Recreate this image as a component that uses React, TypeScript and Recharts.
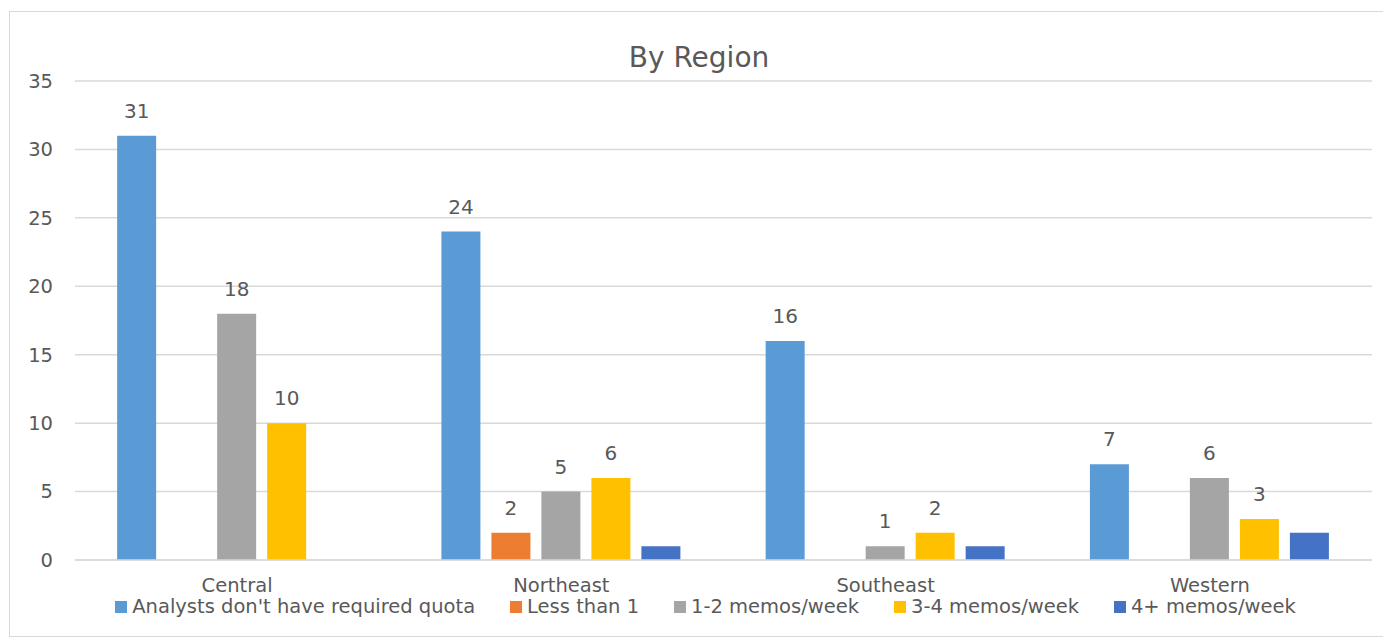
import { Bar, BarChart, CartesianGrid, LabelList, Legend, XAxis, YAxis } from "recharts";

const regions = ["Central", "Northeast", "Southeast", "Western"];

const noQuota = [31, 24, 16, 7];
const lessThanOne = [null, 2, null, null];
const oneToTwo = [18, 5, 1, 6];
const threeToFour = [10, 6, 2, 3];
const fourPlus = [null, 1, 1, 2];

const yTicks = [0, 5, 10, 15, 20, 25, 30, 35];

const series = [
  { key: "noQuota", name: "Analysts don't have required quota", color: "#5B9BD5", labels: true },
  { key: "lessThanOne", name: "Less than 1", color: "#ED7D31", labels: true },
  { key: "oneToTwo", name: "1-2 memos/week", color: "#A5A5A5", labels: true },
  { key: "threeToFour", name: "3-4 memos/week", color: "#FFC000", labels: true },
  { key: "fourPlus", name: "4+ memos/week", color: "#4472C4", labels: false },
];

const data = regions.map((region, i) => ({
  region,
  noQuota: noQuota[i],
  lessThanOne: lessThanOne[i],
  oneToTwo: oneToTwo[i],
  threeToFour: threeToFour[i],
  fourPlus: fourPlus[i],
}));

const textColor = "#595959";
const gridColor = "#D9D9D9";

function ChartLegend() {
  return (
    <div
      style={{
        display: "flex",
        justifyContent: "center",
        gap: 35,
        fontSize: 19.5,
        color: textColor,
        lineHeight: "22px",
        paddingLeft: 24,
      }}
    >
      {series.map((s) => (
        <span key={s.key} style={{ display: "inline-flex", alignItems: "center", gap: 5 }}>
          <span style={{ width: 12, height: 12, background: s.color, display: "inline-block" }} />
          {s.name}
        </span>
      ))}
    </div>
  );
}

export default function App() {
  return (
    <div
      style={{
        position: "relative",
        marginLeft: 1,
        marginTop: 3,
        width: 1378,
        height: 624,
        border: "1px solid #D9D9D9",
        background: "#fff",
        fontFamily: "'DejaVu Sans', sans-serif",
      }}
    >
      <div
        style={{
          position: "absolute",
          top: 29,
          left: 0,
          width: "100%",
          textAlign: "center",
          fontSize: 28,
          color: textColor,
          lineHeight: "34px",
        }}
      >
        By Region
      </div>
      <BarChart
        width={1378}
        height={624}
        data={data}
        margin={{ top: 69, right: 16, left: 5, bottom: 18 }}
        barCategoryGap="13%"
        barGap={11}
      >
        <CartesianGrid stroke={gridColor} strokeWidth={1.5} vertical={false} />
        <XAxis
          dataKey="region"
          axisLine={{ stroke: gridColor, strokeWidth: 1.5 }}
          tickLine={false}
          height={36}
          tick={{ fill: textColor, fontSize: 19.5 }}
          tickMargin={12}
        />
        <YAxis
          domain={[0, 35]}
          ticks={yTicks}
          axisLine={false}
          tickLine={false}
          width={60}
          tick={{ fill: textColor, fontSize: 19.5 }}
          tickMargin={16}
        />
        <Legend verticalAlign="bottom" content={<ChartLegend />} />
        {series.map((s) => (
          <Bar key={s.key} dataKey={s.key} name={s.name} fill={s.color} isAnimationActive={false}>
            {s.labels && (
              <LabelList dataKey={s.key} position="top" offset={18} fill={textColor} fontSize={20} />
            )}
          </Bar>
        ))}
      </BarChart>
    </div>
  );
}
